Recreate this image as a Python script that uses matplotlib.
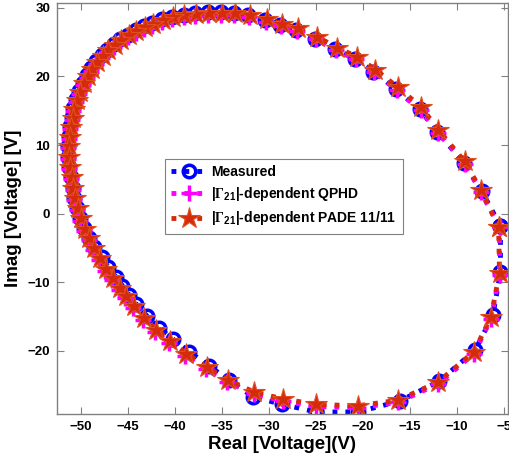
import numpy as np
import matplotlib.pyplot as plt

plt.rcParams['font.family'] = ['Liberation Sans', 'DejaVu Sans']
plt.rcParams['font.weight'] = 'bold'
plt.rcParams['mathtext.fontset'] = 'custom'
plt.rcParams['mathtext.rm'] = 'Liberation Serif'
plt.rcParams['mathtext.bf'] = 'Liberation Sans:bold'

# measured loop (blue circles)
meas_re = [-5.4, -7.4, -9.3, -12.1, -14.0, -16.5, -18.9, -20.9, -23.0, -25.1,
           -27.1, -28.8, -30.4, -32.2, -33.7, -35.1, -36.5, -37.9, -39.1, -40.3,
           -41.4, -42.4, -43.3, -44.2, -45.0, -45.8, -46.5, -47.2, -47.8, -48.4,
           -48.9, -49.4, -49.8, -50.2, -50.5, -50.8, -51.0, -51.2, -51.3, -51.4,
           -51.4, -51.3, -51.1, -50.9, -50.7, -50.4, -50.1, -49.7, -49.2, -48.6,
           -47.8, -47.1, -46.3, -45.6, -44.9, -44.1, -43.0, -41.7, -40.2, -38.5,
           -36.4, -34.3, -31.7, -28.6, -25.0, -20.5, -16.1, -11.9, -8.1, -6.2,
           -5.4, -5.4]
meas_im = [-1.8, 3.3, 7.4, 11.9, 15.2, 18.1, 20.7, 22.6, 24.0, 25.5,
           26.8, 27.5, 28.2, 28.9, 29.3, 29.4, 29.4, 29.2, 29.0, 28.7,
           28.3, 27.8, 27.3, 26.7, 26.1, 25.4, 24.7, 23.9, 23.1, 22.2,
           21.2, 20.2, 19.1, 17.9, 16.7, 15.4, 14.1, 12.7, 11.3, 9.8,
           8.3, 6.8, 5.3, 3.8, 2.3, 0.8, -0.7, -2.1, -3.5, -4.9,
           -6.3, -7.8, -9.2, -10.5, -11.8, -13.2, -14.9, -16.6, -18.3, -20.1,
           -22.2, -24.2, -26.7, -27.8, -28.9, -28.9, -27.3, -24.4, -19.9, -14.8,
           -8.5, -1.8]

# |Gamma21|-dependent QPHD (magenta plus)
qphd_re = [-5.5, -7.5, -9.2, -12.0, -13.9, -16.4, -18.8, -20.8, -22.9, -25.0,
           -27.0, -28.7, -30.3, -32.1, -33.7, -35.1, -36.5, -37.9, -39.1, -40.3,
           -41.4, -42.4, -43.3, -44.2, -45.0, -45.8, -46.5, -47.2, -47.8, -48.4,
           -48.9, -49.4, -49.8, -50.2, -50.5, -50.8, -51.0, -51.2, -51.3, -51.4,
           -51.4, -51.3, -51.1, -50.9, -50.7, -50.4, -50.1, -49.7, -49.2, -48.7,
           -48.1, -47.4, -46.7, -46.0, -45.3, -44.5, -43.4, -42.1, -40.6, -38.9,
           -36.7, -34.5, -31.6, -28.5, -25.0, -20.6, -16.3, -12.0, -8.2, -6.4,
           -5.5, -5.5]
qphd_im = [-2.0, 3.2, 7.3, 11.8, 15.1, 18.0, 20.6, 22.5, 23.8, 25.4,
           26.6, 27.3, 27.9, 28.6, 28.9, 29.0, 29.0, 28.8, 28.6, 28.3,
           27.9, 27.4, 26.9, 26.3, 25.7, 25.0, 24.3, 23.5, 22.7, 21.8,
           20.8, 19.8, 18.7, 17.5, 16.3, 15.0, 13.7, 12.3, 10.9, 9.5,
           8.0, 6.5, 5.0, 3.5, 2.0, 0.5, -1.0, -2.5, -3.9, -5.3,
           -6.8, -8.3, -9.7, -11.1, -12.3, -13.8, -15.5, -17.2, -18.9, -20.7,
           -22.7, -24.5, -26.3, -27.3, -28.1, -28.3, -27.5, -24.8, -20.4, -15.3,
           -8.9, -2.0]

# |Gamma21|-dependent PADE 11/11 (red stars)
pade_re = [-5.6, -7.5, -9.2, -12.0, -13.8, -16.3, -18.7, -20.7, -22.8, -24.9,
           -26.9, -28.6, -30.2, -32.0, -33.6, -35.0, -36.4, -37.8, -39.0, -40.2,
           -41.3, -42.3, -43.2, -44.1, -44.9, -45.7, -46.4, -47.1, -47.7, -48.3,
           -48.8, -49.3, -49.7, -50.1, -50.4, -50.7, -50.9, -51.1, -51.2, -51.3,
           -51.3, -51.2, -51.0, -50.8, -50.6, -50.3, -50.0, -49.6, -49.1, -48.6,
           -48.0, -47.3, -46.6, -45.9, -45.2, -44.4, -43.3, -42.0, -40.5, -38.8,
           -36.6, -34.4, -31.6, -28.5, -25.0, -20.6, -16.3, -12.0, -8.2, -6.4,
           -5.5, -5.6]
pade_im = [-1.9, 3.5, 7.6, 12.2, 15.5, 18.4, 21.0, 22.9, 24.2, 25.8,
           27.0, 27.7, 28.3, 29.0, 29.2, 29.3, 29.3, 29.1, 28.9, 28.6,
           28.2, 27.7, 27.2, 26.6, 26.0, 25.3, 24.6, 23.8, 23.0, 22.1,
           21.1, 20.1, 19.0, 17.8, 16.6, 15.3, 14.0, 12.6, 11.2, 9.8,
           8.3, 6.8, 5.3, 3.8, 2.3, 0.8, -0.7, -2.2, -3.6, -5.0,
           -6.5, -8.0, -9.4, -10.8, -12.0, -13.5, -15.2, -16.9, -18.6, -20.4,
           -22.4, -24.2, -26.0, -27.0, -27.8, -28.0, -27.2, -24.5, -20.1, -15.0,
           -8.6, -1.9]

labels = ['Measured',
          r'|$\Gamma_{\mathbf{21}}$|-dependent QPHD',
          r'|$\Gamma_{\mathbf{21}}$|-dependent PADE 11/11']

fig = plt.figure(figsize=(5.09, 4.59), dpi=100)
ax = fig.add_axes([0.112, 0.098, 0.886, 0.8955])

ax.plot(meas_re, meas_im, ':', color='#0000ff', lw=3.5, marker='o', ms=9,
        mfc='none', mec='#0000ff', mew=2.5, label=labels[0])
ax.plot(qphd_re, qphd_im, ':', color='#ff00ff', lw=3.5, marker='+', ms=11,
        mew=2.5, label=labels[1])
ax.plot(pade_re, pade_im, ':', color='#d52b0c', lw=3.5, marker='*', ms=16,
        mfc='#d52b0c', mec='#e0501e', mew=0.8, label=labels[2])

ax.set_xlim(-52.55, -4.6)
ax.set_ylim(-29.2, 30.7)
ax.set_xticks(np.arange(-50, -4, 5))
ax.set_yticks([-20, -10, 0, 10, 20, 30])
ax.tick_params(direction='in', top=True, right=True, length=5, width=0.8,
               color='#808080', labelsize=9.5, pad=5)
for sp in ax.spines.values():
    sp.set_color('#808080')
    sp.set_linewidth(1.0)

ax.set_xlabel('Real [Voltage](V)', fontsize=13.5, fontweight='bold', labelpad=2)
ax.set_ylabel('Imag [Voltage] [V]', fontsize=13.5, fontweight='bold', labelpad=4)

leg = ax.legend(loc='center', bbox_to_anchor=(0.503, 0.53),
                prop={'weight': 'bold', 'size': 10}, handlelength=2.6,
                labelspacing=0.45, fancybox=False, framealpha=1,
                edgecolor='#808080', borderpad=0.45, handletextpad=0.3)
leg.get_frame().set_linewidth(0.8)

fig.savefig('out.png', dpi=100)
